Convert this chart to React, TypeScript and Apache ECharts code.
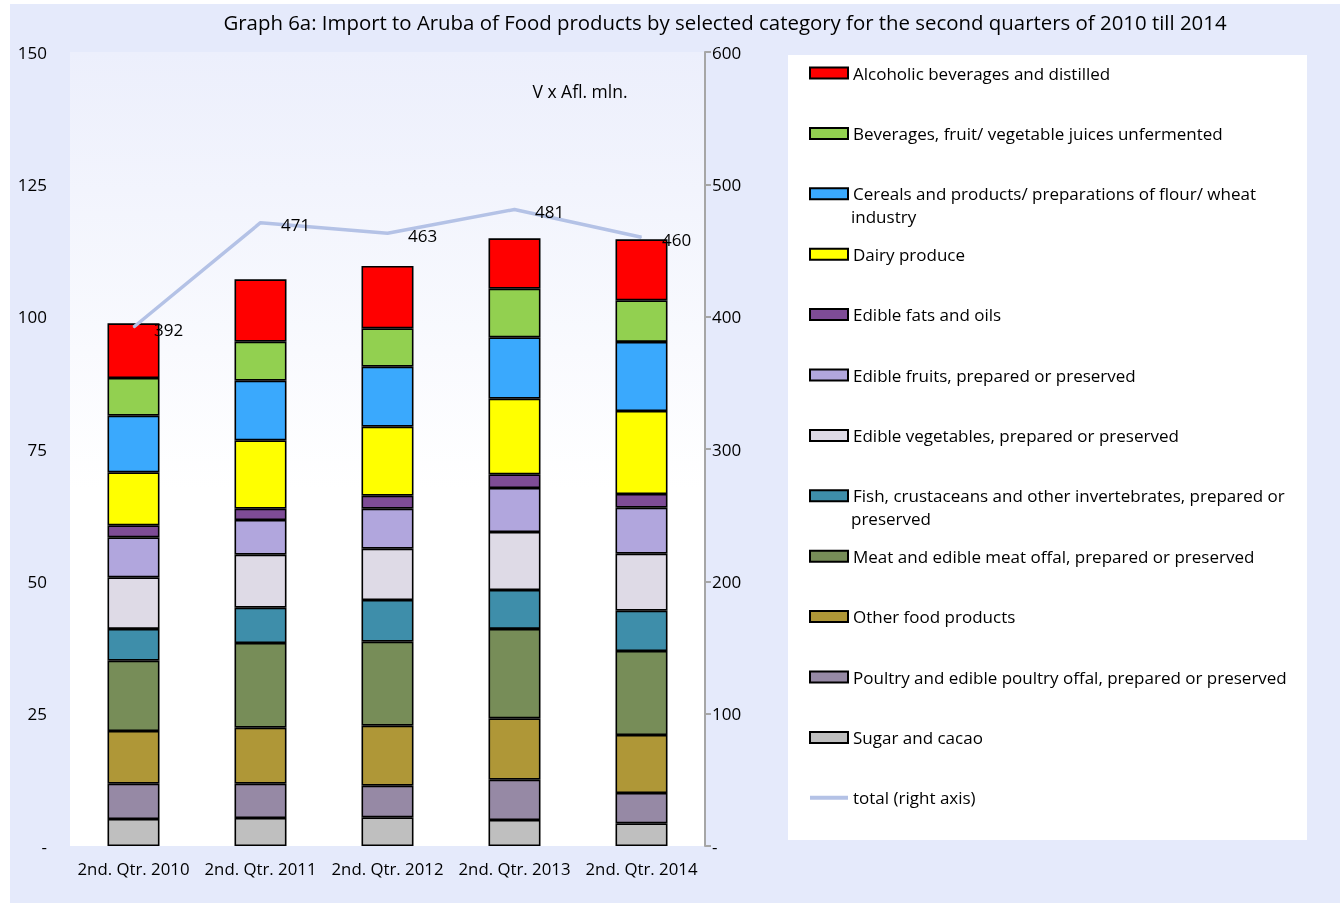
import React, { useEffect, useRef } from "react";
import * as echarts from "echarts";

const categories = ["2nd. Qtr. 2010", "2nd. Qtr. 2011", "2nd. Qtr. 2012", "2nd. Qtr. 2013", "2nd. Qtr. 2014"];

const sugar = [5.1, 5.29, 5.42, 4.91, 4.29];
const poultry = [6.67, 6.48, 5.97, 7.62, 5.72];
const otherFood = [9.96, 10.58, 11.34, 11.59, 10.96];
const meat = [13.28, 16.0, 15.87, 16.88, 15.87];
const fish = [5.99, 6.67, 7.87, 7.36, 7.61];
const vegetables = [9.76, 10.01, 9.7, 10.96, 10.77];
const fruits = [7.56, 6.56, 7.55, 8.31, 8.69];
const fats = [2.27, 2.13, 2.46, 2.59, 2.59];
const dairy = [10.01, 12.92, 13.03, 14.28, 15.68];
const cereals = [10.69, 11.26, 11.34, 11.6, 13.04];
const beverages = [7.12, 7.37, 7.25, 9.18, 7.87];
const alcoholic = [10.34, 11.79, 11.77, 9.52, 11.53];
const total = [392, 471, 463, 481, 460];

const leftTicks = { min: 0, max: 150, interval: 25 };
const rightTicks = { min: 0, max: 600, interval: 100 };

const barSeriesDefs = [
  { name: "Sugar and cacao", data: sugar, color: "#BFBFBF" },
  { name: "Poultry and edible poultry offal, prepared or preserved", data: poultry, color: "#9689A5" },
  { name: "Other food products", data: otherFood, color: "#AF9737" },
  { name: "Meat and edible meat offal, prepared or preserved", data: meat, color: "#778D58" },
  { name: "Fish, crustaceans and other invertebrates, prepared or preserved", data: fish, color: "#3E8EAA" },
  { name: "Edible vegetables, prepared or preserved", data: vegetables, color: "#DEDAE6" },
  { name: "Edible fruits, prepared or preserved", data: fruits, color: "#B1A6DD" },
  { name: "Edible fats and oils", data: fats, color: "#7E4C96" },
  { name: "Dairy produce", data: dairy, color: "#FFFF00" },
  { name: "Cereals and products/ preparations of flour/ wheat industry", data: cereals, color: "#3AA9FD" },
  { name: "Beverages, fruit/ vegetable juices unfermented", data: beverages, color: "#92D050" },
  { name: "Alcoholic beverages and distilled", data: alcoholic, color: "#FF0000" },
];
const totalName = "total (right axis)";

const firstLine: Record<string, string> = {
  "Cereals and products/ preparations of flour/ wheat industry": "Cereals and products/ preparations of flour/ wheat",
  "Fish, crustaceans and other invertebrates, prepared or preserved": "Fish, crustaceans and other invertebrates, prepared or",
};

const FONT = "'Open Sans', 'Noto Sans', sans-serif";

export default function App() {
  const ref = useRef<HTMLDivElement>(null);
  useEffect(() => {
    document.body.style.margin = "0";
    const chart = echarts.init(ref.current!, null, { renderer: "svg" });
    const legendData: any[] = [...barSeriesDefs.map((d) => d.name)].reverse().map((n) => ({ name: n, icon: "rect" }));
    legendData.push({ name: totalName, itemStyle: { opacity: 0 }, lineStyle: { width: 4, color: "#B4C2E6" } });
    chart.setOption({
      animation: false,
      textStyle: { fontFamily: FONT },
      graphic: [
        { type: "rect", z: -10, silent: true, shape: { x: 10, y: 4, width: 1330, height: 899 }, style: { fill: "#E5EAFB" } },
        { type: "rect", z: -9, silent: true, shape: { x: 788, y: 55, width: 519, height: 785 }, style: { fill: "#FFFFFF" } },
        {
          type: "text", x: 725, y: 22, z: 10,
          style: { text: "Graph 6a: Import to Aruba of Food products by selected category for the second quarters of 2010 till 2014", fill: "#000", font: `20.4px ${FONT}`, textAlign: "center", textVerticalAlign: "middle" },
        },
        { type: "text", x: 580, y: 91, z: 10, style: { text: "V x Afl. mln.", fill: "#000", font: `17.5px ${FONT}`, textAlign: "center", textVerticalAlign: "middle" } },
        { type: "text", x: 851, y: 216, z: 10, style: { text: "industry", fill: "#000", font: `17px ${FONT}`, textAlign: "left", textVerticalAlign: "middle" } },
        { type: "text", x: 851, y: 518, z: 10, style: { text: "preserved", fill: "#000", font: `17px ${FONT}`, textAlign: "left", textVerticalAlign: "middle" } },
      ],
      grid: {
        left: 70, right: 635, top: 52, bottom: 59, show: true, borderWidth: 0,
        backgroundColor: new echarts.graphic.LinearGradient(0, 0, 0, 1, [
          { offset: 0, color: "#ECEFFC" },
          { offset: 0.55, color: "#FFFFFF" },
          { offset: 1, color: "#FFFFFF" },
        ]),
      },
      legend: {
        orient: "vertical", left: 808, top: 63, padding: 0, itemWidth: 38, itemHeight: 11, itemGap: 40.4,
        data: legendData,
        textStyle: { fontSize: 17, color: "#000", fontFamily: FONT, lineHeight: 20 },
        formatter: (n: string) => firstLine[n] || n,
      },
      xAxis: {
        type: "category", data: categories,
        axisLine: { show: false }, axisTick: { show: false },
        axisLabel: { color: "#000", fontSize: 16.8, margin: 14, interval: 0, hideOverlap: false, fontFamily: FONT },
      },
      yAxis: [
        {
          type: "value", ...leftTicks, position: "left",
          axisLine: { show: false }, axisTick: { show: false }, splitLine: { show: false },
          axisLabel: { color: "#000", fontSize: 17, margin: 23, fontFamily: FONT, formatter: (v: number) => (v === 0 ? "-" : String(v)) },
        },
        {
          type: "value", ...rightTicks, position: "right",
          axisLine: { show: true, lineStyle: { color: "#A6A6A6", width: 2 } },
          axisTick: { show: true, length: 6, lineStyle: { color: "#A6A6A6", width: 2 } },
          splitLine: { show: false },
          axisLabel: { color: "#000", fontSize: 17, margin: 7, fontFamily: FONT, formatter: (v: number) => (v === 0 ? "-" : String(v)) },
        },
      ],
      series: [
        ...barSeriesDefs.map((d) => ({
          name: d.name, type: "bar", stack: "food", data: d.data, barWidth: 52,
          itemStyle: { color: d.color, borderColor: "#000", borderWidth: 1.6 },
        })),
        {
          name: totalName, type: "line", yAxisIndex: 1, data: total,
          symbol: "circle", symbolSize: 1, z: 5,
          lineStyle: { color: "#B4C2E6", width: 3.5 },
          itemStyle: { color: "#B4C2E6" },
          label: { show: true, position: "right", distance: 20, offset: [0, 2], color: "#000", fontSize: 17, fontFamily: FONT },
        },
      ],
    });
    return () => chart.dispose();
  }, []);
  return <div ref={ref} style={{ position: "fixed", left: 0, top: 0, width: 1340, height: 905 }} />;
}
